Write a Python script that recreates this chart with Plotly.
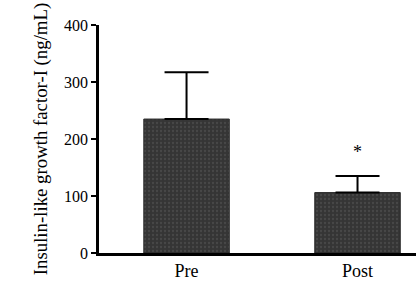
import plotly.graph_objects as go

categories = ["Pre", "Post"]
means = [235, 106]
errors = [82, 29]
sig_marks = ["", "*"]
y_ticks = [0, 100, 200, 300, 400]

fig = go.Figure()
fig.add_trace(go.Bar(
    x=categories, y=means, width=0.5,
    marker=dict(color="#353535", line=dict(color="#2a2a2a", width=1),
                pattern=dict(shape=".", fgcolor="#5a5a5a", bgcolor="#353535", size=4, solidity=0.25)),
    error_y=dict(type="data", symmetric=False, array=errors, arrayminus=[0, 0],
                 color="black", thickness=2, width=22),
    showlegend=False,
))

for c, m, e, s in zip(categories, means, errors, sig_marks):
    if s:
        fig.add_annotation(x=c, y=m + e + 22, text=s, showarrow=False, yanchor="bottom",
                           font=dict(family="Liberation Serif", size=18, color="black"))

fig.update_layout(
    width=416, height=292,
    margin=dict(l=99, r=0, t=25, b=39),
    paper_bgcolor="white", plot_bgcolor="white",
    font=dict(family="Liberation Serif", size=16, color="black"),
    bargap=0.5,
)
fig.update_xaxes(range=[-0.512, 1.342], showline=True, linecolor="black", linewidth=2.5,
                 ticks="", showgrid=False, tickfont=dict(size=18), zeroline=False)
fig.update_yaxes(range=[0, 400], tickvals=y_ticks, showline=True, linecolor="black", linewidth=2.5,
                 ticks="outside", ticklen=5, tickwidth=2, tickcolor="black", showgrid=False,
                 zeroline=False, tickfont=dict(size=16),
                 title=dict(text="Insulin-like growth factor-I (ng/mL)", font=dict(size=18.8), standoff=12))

fig.write_html("out.html")
